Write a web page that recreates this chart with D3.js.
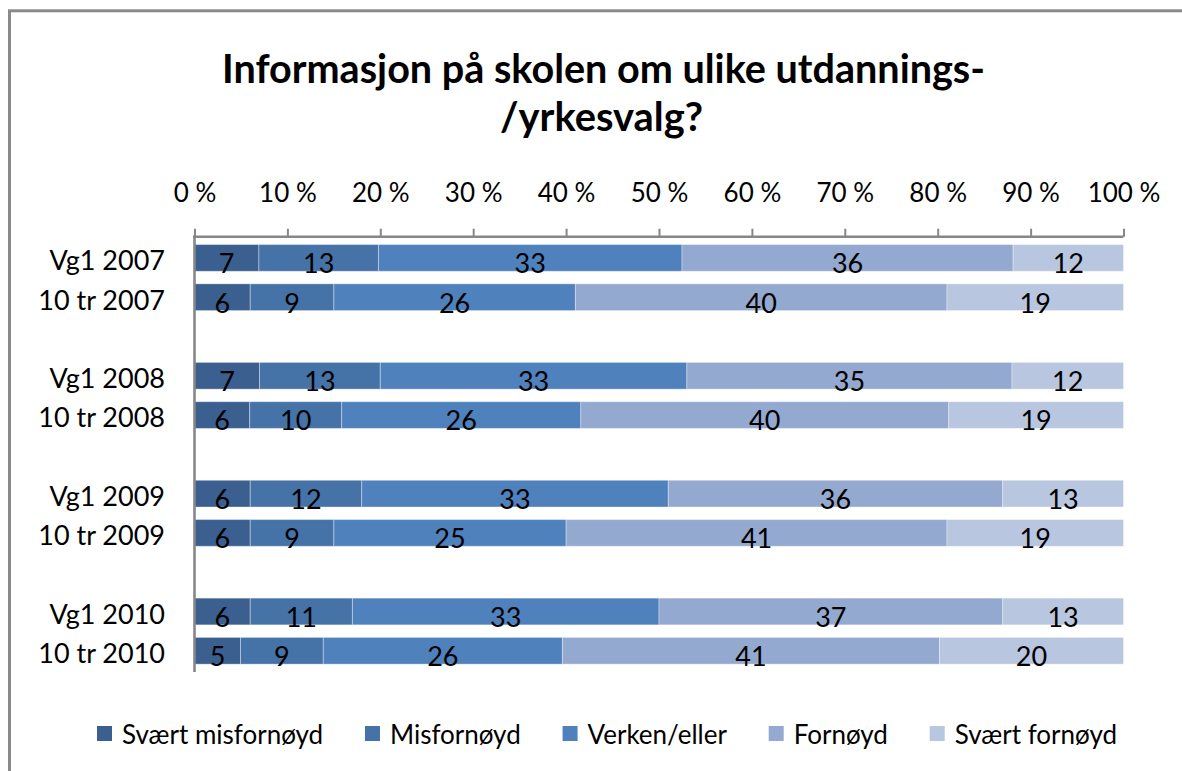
<!DOCTYPE html>
<html>
<head>
<meta charset="utf-8">
<script src="https://cdn.jsdelivr.net/npm/d3@7"></script>
<style>
  body { margin: 0; background: #fff; }
  svg { display: block; }
  text { font-family: Lato, "Open Sans", sans-serif; fill: #000; }
</style>
</head>
<body>
<svg id="chart" width="1182" height="771"></svg>
<script>
// Survey rows (two per year) and answer categories
const categories = ["Vg1 2007", "10 tr 2007", "Vg1 2008", "10 tr 2008",
                    "Vg1 2009", "10 tr 2009", "Vg1 2010", "10 tr 2010"];
const seriesNames = ["Svært misfornøyd", "Misfornøyd", "Verken/eller", "Fornøyd", "Svært fornøyd"];

// Share of answers (%) per row, one array per answer category
const svaertMisfornoyd = [7, 6, 7, 6, 6, 6, 6, 5];
const misfornoyd       = [13, 9, 13, 10, 12, 9, 11, 9];
const verkenEller      = [33, 26, 33, 26, 33, 25, 33, 26];
const fornoyd          = [36, 40, 35, 40, 36, 41, 37, 41];
const svaertFornoyd    = [12, 19, 12, 19, 13, 19, 13, 20];

const tickValues = [0, 10, 20, 30, 40, 50, 60, 70, 80, 90, 100];
const colors = ["#3b5f8e", "#4572a7", "#4f81bd", "#94a9d0", "#b9c6e0"];

const titleLines = ["Informasjon på skolen om ulike utdannings-", "/yrkesvalg?"];

const seriesValues = [svaertMisfornoyd, misfornoyd, verkenEller, fornoyd, svaertFornoyd];
const rows = categories.map((c, i) => {
  const r = { category: c };
  seriesNames.forEach((s, k) => { r[s] = seriesValues[k][i]; });
  return r;
});

// Rows come in pairs; an empty slot separates each year
const slots = [];
categories.forEach((c, i) => {
  slots.push(c);
  if (i % 2 === 1 && i < categories.length - 1) slots.push("__gap" + i);
});

const svg = d3.select("#chart");

// Outer chart frame
svg.append("rect")
  .attr("x", 9.5).attr("y", 10.8)
  .attr("width", 1300).attr("height", 900)
  .attr("fill", "none").attr("stroke", "#8a8a8a").attr("stroke-width", 3);

const plot = { left: 194.5, right: 1123.5, top: 236.7, bottom: 672 };

const x = d3.scaleLinear().domain([0, 1]).range([plot.left, plot.right]);
const y = d3.scaleBand().domain(slots).range([plot.top, plot.bottom])
  .paddingInner(0.32).paddingOuter(0.2);

const stack = d3.stack().keys(seriesNames).offset(d3.stackOffsetExpand);
const stacked = stack(rows);

// Bars
const layers = svg.append("g").selectAll("g")
  .data(stacked).join("g")
  .attr("fill", (d, i) => colors[i]);

layers.selectAll("rect")
  .data(d => d.map(p => ({ p, key: d.key })))
  .join("rect")
  .attr("x", d => x(d.p[0]))
  .attr("y", d => y(d.p.data.category))
  .attr("width", d => x(d.p[1]) - x(d.p[0]))
  .attr("height", y.bandwidth())
  .attr("stroke", "#ffffff").attr("stroke-opacity", 0.35).attr("stroke-width", 1);

// Value labels
layers.selectAll("text")
  .data(d => d.map(p => ({ p, key: d.key })))
  .join("text")
  .attr("x", d => (x(d.p[0]) + x(d.p[1])) / 2)
  .attr("y", d => y(d.p.data.category) + y.bandwidth() + 2)
  .attr("text-anchor", "middle")
  .style("font-size", "27px")
  .style("fill", "#000")
  .text(d => d.p.data[d.key]);

// Top percentage axis
const axis = d3.axisTop(x)
  .tickValues(tickValues.map(v => v / 100))
  .tickSize(8)
  .tickPadding(0)
  .tickFormat(v => Math.round(v * 100) + " %");

const ax = svg.append("g").attr("transform", `translate(0,${plot.top})`).call(axis);
ax.select(".domain").attr("stroke", "#878787").attr("stroke-width", 2.6)
  .attr("d", `M${plot.left - 1.3},0H${plot.right}`);
ax.selectAll(".tick line").attr("stroke", "#878787").attr("stroke-width", 2);
ax.selectAll(".tick text")
  .attr("y", -35)
  .attr("dy", null)
  .style("font-size", "26px")
  .style("font-family", "Lato, 'Open Sans', sans-serif")
  .attr("fill", "#000");

// Vertical category axis line
svg.append("line")
  .attr("x1", plot.left).attr("x2", plot.left)
  .attr("y1", plot.top - 1.3).attr("y2", plot.bottom)
  .attr("stroke", "#878787").attr("stroke-width", 2.6);

// Category labels
svg.append("g").selectAll("text")
  .data(categories).join("text")
  .attr("x", 165)
  .attr("y", d => y(d) + y.bandwidth() - 1)
  .attr("text-anchor", "end")
  .style("font-size", "27px")
  .text(d => d);

// Title
const titleWidths = [763, 203];
svg.append("g").selectAll("text")
  .data(titleLines).join("text")
  .attr("x", (d, i) => i === 0 ? 603.5 : 601.5)
  .attr("y", (d, i) => 83 + i * 48)
  .attr("text-anchor", "middle")
  .style("font-size", "41px")
  .style("font-weight", "bold")
  .attr("textLength", (d, i) => titleWidths[i])
  .attr("lengthAdjust", "spacingAndGlyphs")
  .text(d => d);

// Legend: spread items evenly between the left and right legend edges
const legendLeft = 97, legendRight = 1117, swatch = 15, textGap = 25;
const legend = svg.append("g");
const items = seriesNames.map((name, i) => {
  const g = legend.append("g");
  g.append("rect").attr("y", 726).attr("width", swatch).attr("height", swatch)
    .attr("fill", colors[i]);
  const t = g.append("text").attr("y", 744).style("font-size", "26px").text(name);
  return { g, w: textGap + t.node().getComputedTextLength() };
});
const totalW = d3.sum(items, d => d.w);
const gap = (legendRight - legendLeft - totalW) / (items.length - 1);
let lx = legendLeft;
items.forEach(it => {
  it.g.select("rect").attr("x", lx);
  it.g.select("text").attr("x", lx + textGap);
  lx += it.w + gap;
});
</script>
</body>
</html>
